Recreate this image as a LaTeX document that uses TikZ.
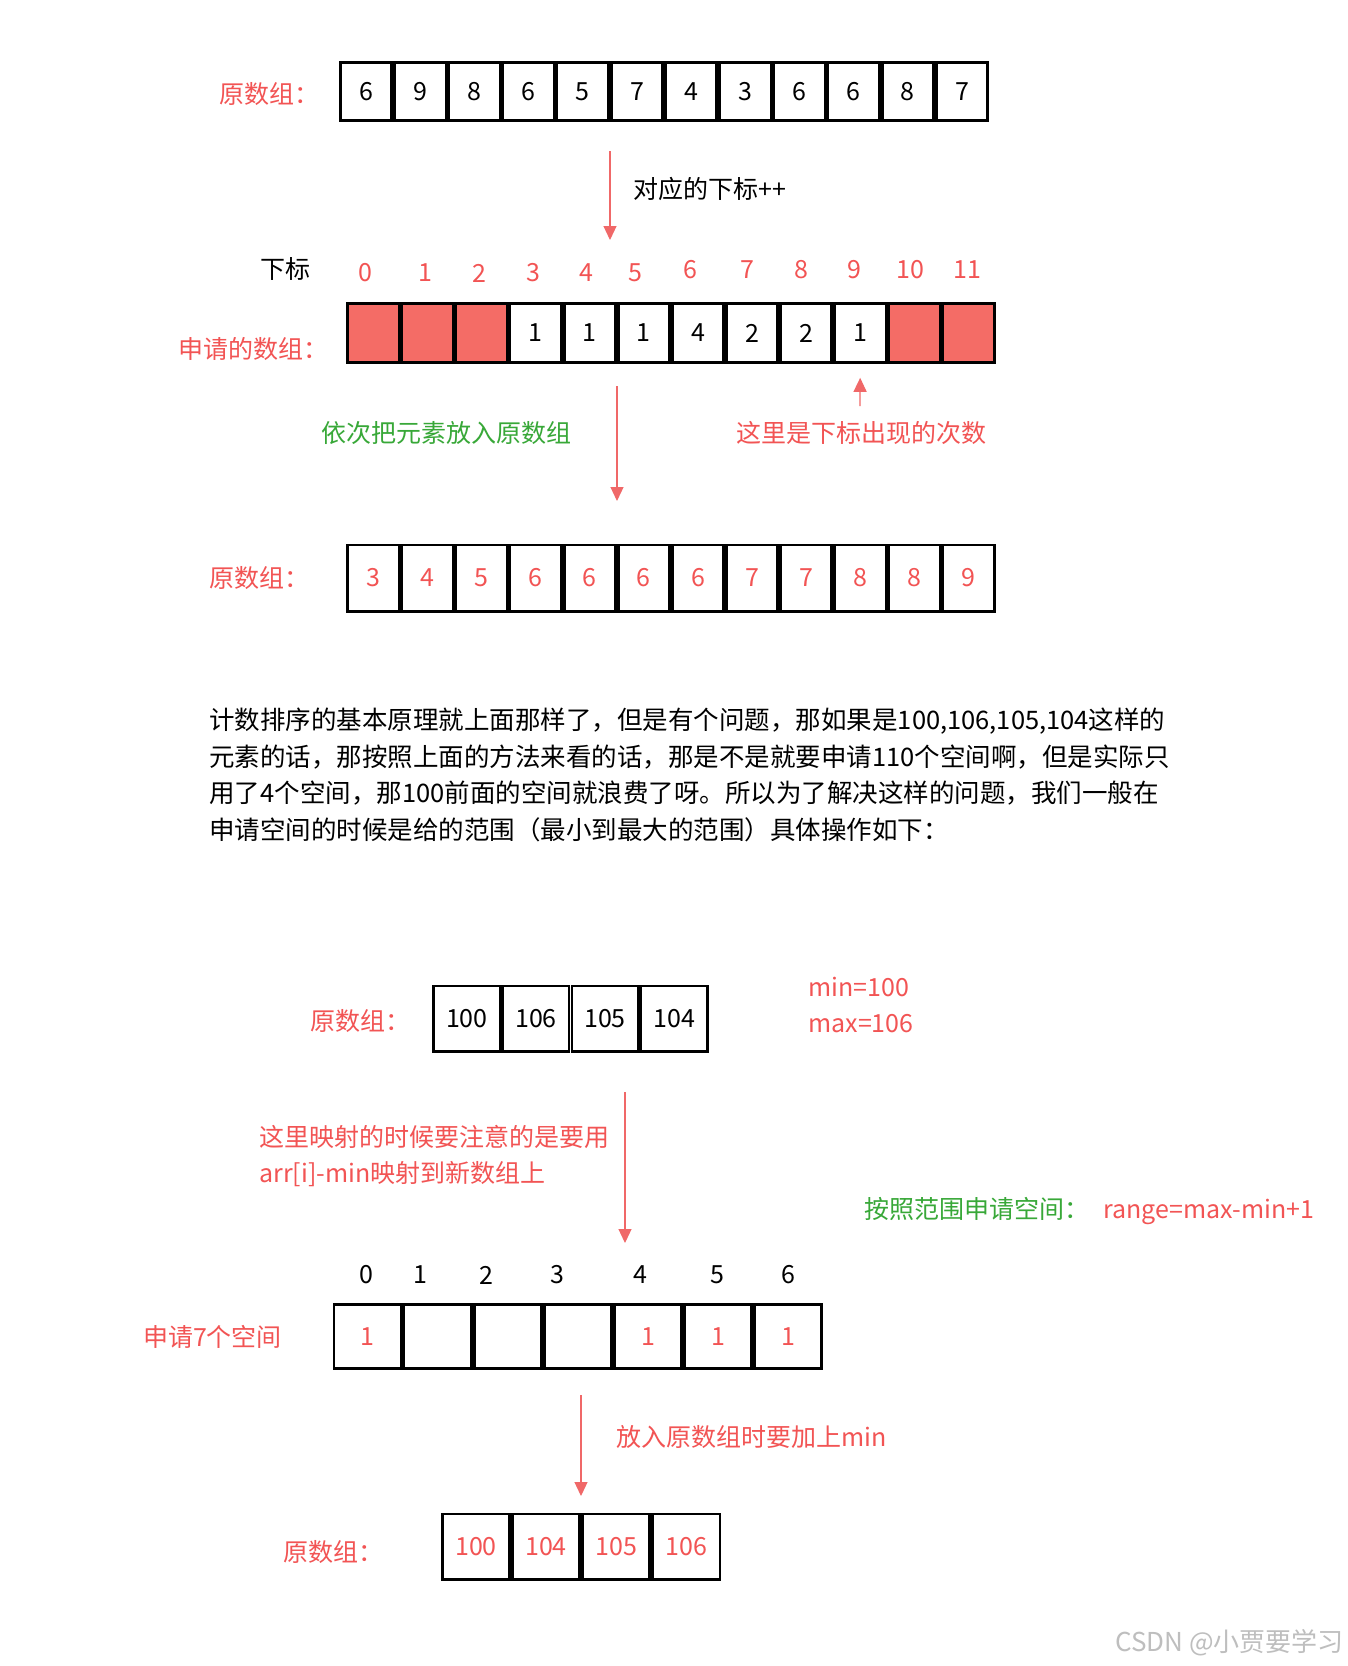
\documentclass[tikz,border=0pt]{standalone}
\usepackage{fontspec}
\setmainfont{Noto Sans CJK SC}
\usepackage{tikz}
\usetikzlibrary{arrows.meta,positioning,calc}
\definecolor{hired}{RGB}{242,84,84}
\definecolor{arrred}{RGB}{240,104,104}
\definecolor{cellred}{RGB}{244,108,102}
\definecolor{txtgreen}{RGB}{56,168,56}
\definecolor{markgray}{RGB}{190,190,190}

\begin{document}
\begin{tikzpicture}[
  x=0.5pt, y=-0.5pt,
  font=\fontsize{12.5pt}{18.25pt}\selectfont,
  cell/.style 2 args={draw, line width=1.4pt, inner sep=0pt, minimum width=#1, minimum height=#2},
  lbl/.style={inner sep=0pt, text=#1},
  lbl/.default=hired,
  flow/.style={draw=arrred, line width=0.6pt, -{Triangle[length=7pt,width=6.5pt]}},
  >=Stealth]
\useasboundingbox[fill=white] (0,0) rectangle (1348,1666);

% 原数组
\node[lbl] (la) at (269,94) {原数组：};
\foreach \v [count=\i] in {6,9,8,6,5,7,4,3,6,6,8,7}
  \node[cell={25.68pt}{29.35pt}] (a\i) at ({339+54.17*(\i-0.5)},91.5) {\v};

\coordinate (t1) at (610,151); \coordinate (h1) at (610,240);
\draw[flow] (t1) -- (h1);
\node[lbl=black, anchor=west] (inc) at (633,189) {对应的下标++};

% 下标
\node[lbl=black] (idx) at (285,269) {下标};
\foreach \x/\y [count=\i from 0] in {365/273,425/273,479/273,533/273,586/273,635/273,690/270,747/270,801/270,854/270,910/270,967/270}
  \node[lbl] (n\i) at (\x,\y) {\i};

% 申请的数组
\node[lbl] (lb) at (253,349) {申请的数组：};
\foreach \i in {0,1,2,10,11}
  \node[cell={25.65pt}{29.4pt}, fill=cellred] (b\i) at ({346.3+54.1*(\i+0.5)},333) {};
\foreach \v [count=\i from 3] in {1,1,1,4,2,2,1}
  \node[cell={25.65pt}{29.4pt}] (b\i) at ({346.3+54.1*(\i+0.5)},333) {\v};

\coordinate (t2) at (617,386); \coordinate (h2) at (617,501);
\draw[flow] (t2) -- (h2);
\node[lbl=txtgreen] (back) at (446,433) {依次把元素放入原数组};
\coordinate (u3) at (860,406);
\draw[flow, shorten >=7pt] (u3) -- (b9.south);
\node[lbl] (cnt) at (861,433) {这里是下标出现的次数};

% 排好的原数组
\node[lbl] (lc) at (259,578) {原数组：};
\foreach \v [count=\i] in {3,4,5,6,6,6,6,7,7,8,8,9}
  \node[cell={25.65pt}{33.1pt}, text=hired] (c\i) at ({346.3+54.1*(\i-0.5)},578) {\v};

% 说明
\node[lbl=black, anchor=west, align=left, font=\fontsize{12.75pt}{18.3pt}\selectfont] (para) at (209,775)
  {计数排序的基本原理就上面那样了，但是有个问题，那如果是100,106,105,104这样的\\
   元素的话，那按照上面的方法来看的话，那是不是就要申请110个空间啊，但是实际只\\
   用了4个空间，那100前面的空间就浪费了呀。所以为了解决这样的问题，我们一般在\\
   申请空间的时候是给的范围（最小到最大的范围）具体操作如下：};

% 范围映射
\node[lbl] (ld) at (360,1021) {原数组：};
\foreach \v [count=\i] in {100,106,105,104}
  \node[cell={33.1pt}{32.6pt}] (d\i) at ({432.4+69.05*(\i-0.5)},1018.5) {\v};
\node[lbl, anchor=west] (mn) at (808,987) {min=100};
\node[lbl, anchor=west] (mx) at (808,1024) {max=106};

\coordinate (t4) at (625,1092); \coordinate (h4) at (625,1243);
\draw[flow] (t4) -- (h4);
\node[lbl, anchor=west, align=left] (note) at (259,1156) {这里映射的时候要注意的是要用\\arr[i]-min映射到新数组上};
\node[lbl=txtgreen, anchor=west] (rg) at (864,1211) {按照范围申请空间：\hspace{7pt}\textcolor{hired}{range=max-min+1}};

\foreach \x [count=\i from 0] in {366.5,420.7,486.5,557.7,640.6,717.1,788.2}
  \node[lbl=black] (m\i) at (\x,1275) {\i};
\node[lbl] (le) at (212.5,1337) {申请7个空间};
\foreach \i in {0,4,5,6}
  \node[cell={33.65pt}{32.1pt}, text=hired] (e\i) at ({332.5+70.1*(\i+0.5)},1336.5) {1};
\foreach \i in {1,2,3}
  \node[cell={33.65pt}{32.1pt}] (e\i) at ({332.5+70.1*(\i+0.5)},1336.5) {};

\coordinate (t5) at (581,1395); \coordinate (h5) at (581,1496);
\draw[flow] (t5) -- (h5);
\node[lbl, anchor=west] (put) at (616,1437) {放入原数组时要加上min};

\node[lbl] (lf) at (333,1552) {原数组：};
\foreach \v [count=\i] in {100,104,105,106}
  \node[cell={33.65pt}{32.6pt}, text=hired] (f\i) at ({440.9+70.1*(\i-0.5)},1546.5) {\v};

\node[lbl=markgray, anchor=east, font=\fontsize{13pt}{15pt}\selectfont] (wm) at (1344,1643) {CSDN @小贾要学习};
\end{tikzpicture}
\end{document}
